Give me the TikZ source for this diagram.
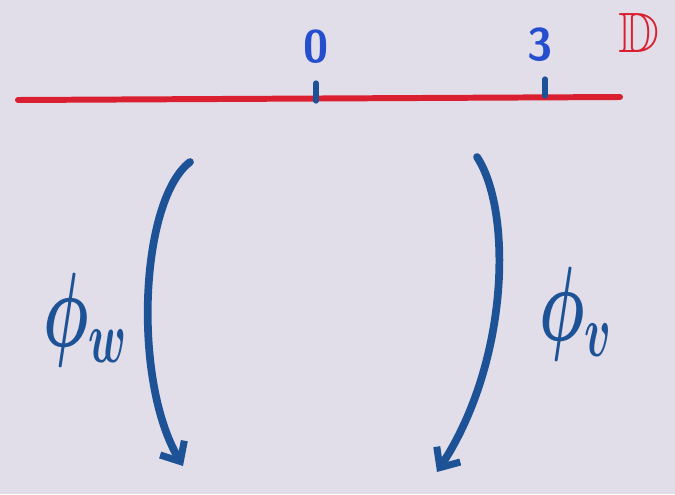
\documentclass[tikz,border=0pt]{standalone}
\usepackage{amssymb}
\usetikzlibrary{arrows.meta, positioning}
\definecolor{paper}{RGB}{226,222,233}
\definecolor{penred}{RGB}{218,32,48}
\definecolor{penblue}{RGB}{36,78,205}
\definecolor{inkblue}{RGB}{30,82,150}
\tikzset{
  mapline/.style={inkblue, line width=4.4pt, line cap=round, -{Straight Barb[length=9pt, width=16pt, line width=4pt]}},
  ticklabel/.style={penblue, font=\fontsize{26}{30}\selectfont\sffamily\bfseries},
  maplabel/.style={inkblue, inner sep=0pt, font=\fontsize{20.74}{26}\selectfont\boldmath}
}
\newcommand{\biglabel}[1]{\scalebox{1.75}[2.9]{$#1$}}
\begin{document}
\begin{tikzpicture}[x=0.02cm, y=-0.02cm]
  % Paper
  \fill[paper] (0,0) rectangle (675,494);
  \useasboundingbox (0,0) rectangle (675,494);

  % Real line
  \coordinate (lineL) at (18,100);
  \coordinate (lineR) at (620,97);
  \draw[penred, line width=3.4pt, line cap=round] (lineL) -- (lineR);
  \node[penred, inner sep=0pt, font=\fontsize{24.88}{30}\selectfont] (dom) at (639,33) {\scalebox{1.3}{$\mathbb{D}$}};

  % Ticks
  \coordinate (tick0) at (316,83);
  \coordinate (tick3) at (545,79);
  \draw[inkblue, line width=3pt, line cap=round] (tick0) -- ++(0,18);
  \draw[inkblue, line width=3pt, line cap=round] (tick3) -- ++(0,17);
  \node[ticklabel] (zero) at (316,47) {0};
  \node[ticklabel] (three) at (540,45) {3};

  % Maps
  \coordinate (wtop) at (190,162);
  \coordinate (wbot) at (183,466);
  \coordinate (vtop) at (477,157);
  \coordinate (vbot) at (437,472);
  \draw[mapline] (wtop) .. controls (140,200) and (132,380) .. (wbot);
  \draw[mapline] (vtop) .. controls (512,210) and (510,360) .. (vbot);
  \node[maplabel] (phiw) at (86,320) {\biglabel{\phi_w}};
  \node[maplabel] (phiv) at (576,314) {\biglabel{\phi_v}};
\end{tikzpicture}
\end{document}
